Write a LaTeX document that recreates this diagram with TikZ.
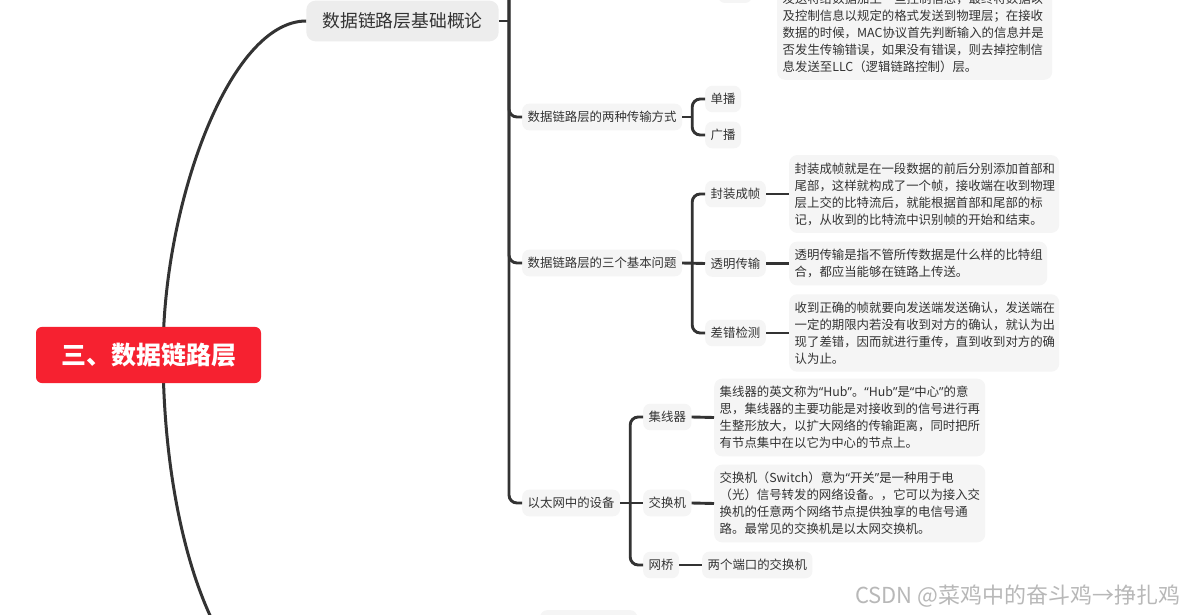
\documentclass[tikz,border=0pt]{standalone}
\usepackage{fontspec}
\setmainfont{Noto Sans CJK SC}
\newfontfamily\quotefont{Noto Sans}
\usepackage{xcolor}
\usepackage{tikz}
\usetikzlibrary{positioning}
\definecolor{ink}{HTML}{333333}
\definecolor{paper}{HTML}{F5F5F5}
\definecolor{paperdark}{HTML}{EDEDED}
\definecolor{rootred}{RGB}{246,33,48}
\newcommand{\smallcn}{\fontsize{12.4}{17}\selectfont}
\newcommand{\qt}[1]{{\quotefont “}#1{\quotefont ”}}

\begin{document}
\begin{tikzpicture}[x=1pt, y=-1pt,
    root/.style={rectangle, rounded corners=6pt, fill=rootred, text=white, font=\fontsize{25}{28}\selectfont\bfseries, inner xsep=25pt, inner ysep=16pt},
    topic/.style={rectangle, rounded corners=9pt, fill=paperdark, text=ink, font=\fontsize{17.8}{20}\selectfont, inner xsep=16pt, inner ysep=12pt},
    sub/.style={rectangle, rounded corners=7pt, fill=paper, text=ink, font=\smallcn, inner xsep=5.5pt, inner ysep=7.5pt},
    note/.style={sub, rounded corners=8pt, align=left, text width=#1},
    link/.style={draw=ink, line width=2.9pt, rounded corners=8pt},
]
    \useasboundingbox (0,0) rectangle (1186,615);
    \fill[white] (0,0) rectangle (1186,615);
    \clip (0,0) rectangle (1186,615);

    \node[topic] (base) at (402.5,21) {数据链路层基础概论};
    \coordinate (hinge) at (163,355);
    \coordinate (lowbase) at (306,700);
    \draw[link, line width=3pt] (base.west) .. controls (230,21) and (165,200) .. (hinge) .. controls (165,530) and (215,700) .. (lowbase);
    \node[root] (root) at (148.5,355) {三、数据链路层};

    \node[sub, minimum width=34pt, minimum height=30pt] (mac) at (735,-12) {};
    \node[note=264pt, anchor=south west] (macnote) at (777,80) {发送将给数据加上一些控制信息，最终将数据以\\及控制信息以规定的格式发送到物理层；在接收\\数据的时候，MAC协议首先判断输入的信息并是\\否发生传输错误，如果没有错误，则去掉控制信\\息发送至LLC（逻辑链路控制）层。};

    \node[sub, anchor=west] (two) at (522,117) {数据链路层的两种传输方式};
    \node[sub, anchor=west] (three) at (522,263) {数据链路层的三个基本问题};
    \node[sub, anchor=west] (eth) at (522,503) {以太网中的设备};

    \node[sub, anchor=west] (uni) at (705,99) {单播};
    \node[sub, anchor=west] (bro) at (705,135) {广播};
    \node[sub, anchor=west] (frame) at (705,194) {封装成帧};
    \node[sub, anchor=west] (trans) at (705,263.5) {透明传输};
    \node[sub, anchor=west] (check) at (705,333) {差错检测};
    \node[sub, anchor=west] (hub) at (643,417) {集线器};
    \node[sub, anchor=west] (switch) at (643,503) {交换机};
    \node[sub, anchor=west] (bridge) at (643,565) {网桥};

    \node[note=259pt, anchor=west] (framenote) at (789,194) {封装成帧就是在一段数据的前后分别添加首部和\\尾部，这样就构成了一个帧，接收端在收到物理\\层上交的比特流后，就能根据首部和尾部的标\\记，从收到的比特流中识别帧的开始和结束。};
    \node[note=247pt, anchor=west] (transnote) at (789,263.5) {透明传输是指不管所传数据是什么样的比特组\\合，都应当能够在链路上传送。};
    \node[note=259pt, anchor=west] (checknote) at (789,333) {收到正确的帧就要向发送端发送确认，发送端在\\一定的期限内若没有收到对方的确认，就认为出\\现了差错，因而就进行重传，直到收到对方的确\\认为止。};
    \node[note=260pt, anchor=west] (hubnote) at (714,417.5) {集线器的英文称为\qt{Hub}。\qt{Hub}是\qt{中心}的意\\思，集线器的主要功能是对接收到的信号进行再\\生整形放大，以扩大网络的传输距离，同时把所\\有节点集中在以它为中心的节点上。};
    \node[note=260pt, anchor=west] (switchnote) at (714,503.5) {交换机（Switch）意为\qt{开关}是一种用于电\\（光）信号转发的网络设备。，它可以为接入交\\换机的任意两个网络节点提供独享的电信号通\\路。最常见的交换机是以太网交换机。};
    \node[sub, anchor=west] (bridgenote) at (702,565) {两个端口的交换机};

    \node[sub, minimum width=97pt, minimum height=30pt, anchor=north west] (next) at (540,610) {};

    \coordinate (spine) at (509,-20);
    \draw[link] (base.east) -- (base.east -| spine);
    \draw[link] (spine) |- (two.west);
    \draw[link] (spine) |- (three.west);
    \draw[link] (spine) |- (eth.west);

    \coordinate[right=10pt of two] (twofork);
    \coordinate[right=10pt of three] (threefork);
    \coordinate[right=10pt of eth] (ethfork);
    \draw[link] (two.east) -- (twofork);
    \draw[link] (uni.west) -| (twofork) |- (bro.west);
    \draw[link] (three.east) -- (trans.west);
    \draw[link] (frame.west) -| (threefork) |- (check.west);
    \draw[link] (eth.east) -- (switch.west);
    \draw[link] (hub.west) -| (ethfork) |- (bridge.west);

    \foreach \a/\b in {frame/framenote, trans/transnote, check/checknote, hub/hubnote, switch/switchnote, bridge/bridgenote}
        \draw[link] (\a.east) -- (\b.west);

    \node[anchor=east, font=\fontsize{22}{24}\selectfont, text=black!28] (mark) at (1184,596) {CSDN @菜鸡中的奋斗鸡→挣扎鸡};
\end{tikzpicture}
\end{document}
